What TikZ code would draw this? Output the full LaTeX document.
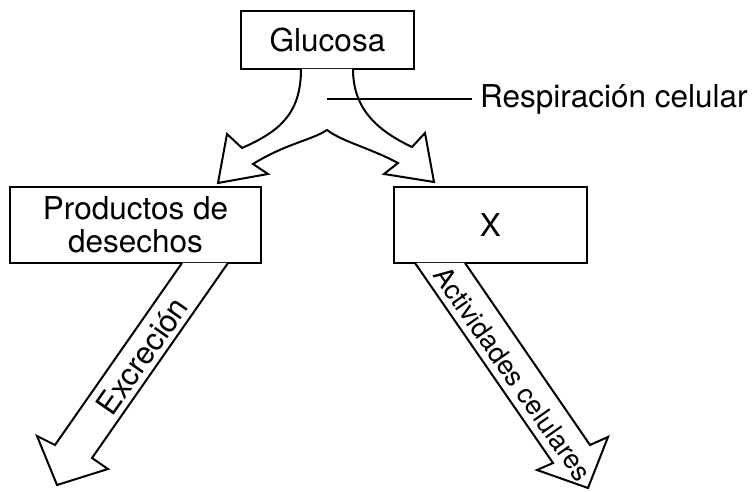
\documentclass[tikz,border=0pt]{standalone}
\usepackage{fontspec}
\setmainfont{TeX Gyre Heros}
\begin{document}
\begin{tikzpicture}[x=1pt,y=-1pt,
  box/.style={draw, line width=2pt, fill=white, inner sep=0pt, align=center, font=\fontsize{31.5}{33}\selectfont},
  arr/.style={draw, line width=2pt, fill=white, line join=miter},
  lbl/.style={font=\fontsize{31.5}{33}\selectfont, inner sep=0pt}]
\useasboundingbox (0,0) rectangle (756,492);
\node[box, minimum width=173pt, minimum height=58pt] (g) at (327.5,40) {Glucosa};
\node[box, minimum width=251pt, minimum height=76pt] (p) at (135.5,225) {Productos de\\desechos};
\node[box, minimum width=193pt, minimum height=76pt] (x) at (490.5,225) {X};
\draw[arr] (301,69) .. controls (301,115) and (278,132) .. (242,148) -- (227,134) -- (218,183) -- (268,174) -- (253,164)
  .. controls (285,144) and (312,140) .. (327,130) .. controls (343,142) and (370,148) .. (398,163)
  -- (384,174) -- (434,182) -- (425,133) -- (412,147) .. controls (376,130) and (353,108) .. (353,69);
\node[lbl, anchor=west] (r) at (480,99) {Respiración celular};
\coordinate (rs) at (327,99);
\draw[line width=2pt, shorten >=8pt] (rs) -- (r.west);
\draw[arr] (182,263) -- (55,445) -- (37,436) -- (57,485) -- (108,469) -- (92,458) -- (228,263);
\node[lbl, rotate=55, font=\fontsize{31}{33}\selectfont] (e) at (142,356) {Excreción};
\draw[arr] (415,263) -- (553,463) -- (537,470) -- (588,488) -- (608,437) -- (590,445) -- (465,263);
\node[lbl, rotate=-55, font=\fontsize{27}{30}\selectfont] (a) at (513,374) {Actividades celulares};
\end{tikzpicture}
\end{document}
